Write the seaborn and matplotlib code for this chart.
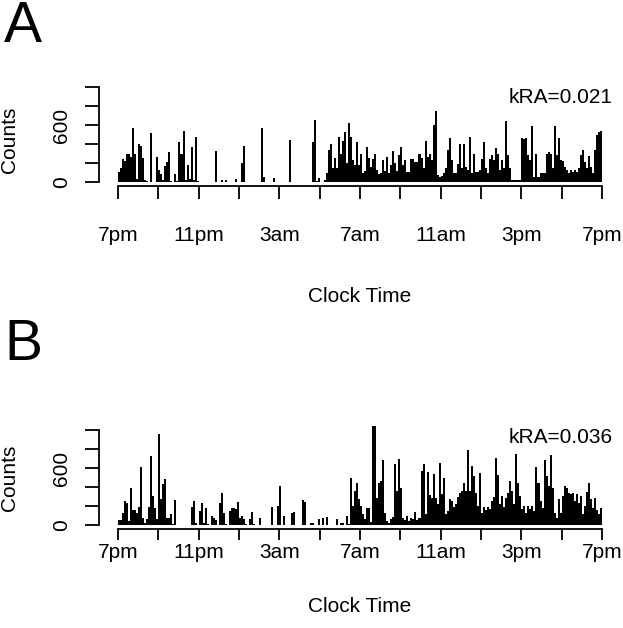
import numpy as np
import pandas as pd
import matplotlib
matplotlib.use("Agg")
import matplotlib.pyplot as plt
import seaborn as sns

# ---- data: activity counts in 6-minute epochs, starting at 7pm ----
counts_a = [
    108, 150, 245, 220, 300, 290, 260, 565, 300, 30,
    395, 380, 250, 20, 15, 0, 520, 0, 5, 260,
    126, 80, 20, 170, 214, 320, 10, 5, 80, 10,
    424, 300, 537, 20, 180, 30, 368, 20, 476, 10,
    5, 0, 0, 0, 0, 0, 0, 0, 330, 0,
    0, 20, 0, 20, 0, 0, 0, 0, 30, 0,
    0, 196, 378, 5, 0, 0, 0, 0, 0, 0,
    0, 570, 56, 0, 0, 0, 0, 45, 0, 0,
    0, 0, 0, 0, 0, 441, 0, 0, 0, 0,
    0, 0, 0, 0, 0, 0, 424, 651, 10, 45,
    0, 0, 20, 90, 336, 395, 150, 250, 143, 476,
    300, 430, 528, 200, 616, 476, 230, 180, 417, 178,
    300, 90, 120, 368, 250, 160, 238, 300, 126, 80,
    100, 230, 120, 266, 90, 178, 325, 200, 120, 283,
    371, 178, 230, 108, 108, 240, 240, 214, 214, 300,
    255, 150, 434, 260, 300, 230, 600, 745, 74, 56,
    60, 90, 143, 336, 458, 230, 100, 90, 185, 395,
    143, 405, 160, 126, 476, 100, 297, 108, 108, 126,
    240, 417, 143, 100, 240, 283, 230, 353, 300, 126,
    230, 150, 640, 283, 143, 20, 20, 20, 20, 20,
    458, 450, 465, 283, 230, 588, 56, 300, 56, 90,
    90, 90, 300, 318, 300, 150, 588, 283, 458, 230,
    220, 160, 126, 90, 126, 108, 126, 108, 143, 283,
    336, 214, 150, 273, 160, 90, 336, 494, 528, 535,
]

counts_b = [
    50, 50, 130, 253, 235, 40, 393, 154, 154, 130,
    190, 611, 77, 20, 60, 190, 730, 305, 175, 60,
    955, 270, 428, 481, 77, 77, 112, 10, 260, 0,
    0, 0, 0, 0, 0, 0, 190, 253, 20, 0,
    147, 235, 20, 175, 10, 0, 95, 70, 50, 0,
    235, 340, 130, 10, 0, 147, 182, 175, 165, 242,
    77, 95, 60, 10, 0, 60, 140, 10, 0, 0,
    77, 0, 0, 0, 0, 0, 190, 0, 0, 200,
    410, 0, 95, 0, 0, 0, 130, 141, 0, 0,
    0, 258, 245, 0, 0, 25, 25, 0, 0, 60,
    0, 70, 0, 88, 0, 0, 0, 0, 67, 0,
    25, 25, 0, 100, 10, 490, 200, 358, 445, 270,
    200, 112, 60, 175, 175, 30, 1040, 1040, 287, 445,
    462, 680, 130, 40, 25, 60, 80, 640, 358, 690,
    392, 77, 50, 100, 40, 70, 60, 140, 50, 77,
    567, 640, 112, 560, 315, 287, 540, 287, 217, 655,
    322, 490, 112, 150, 270, 253, 190, 217, 295, 340,
    358, 445, 358, 785, 358, 620, 515, 340, 200, 550,
    130, 190, 154, 190, 165, 253, 300, 710, 525, 217,
    305, 190, 280, 340, 462, 358, 217, 750, 445, 305,
    165, 200, 130, 200, 165, 200, 150, 610, 445, 253,
    182, 680, 515, 410, 742, 392, 130, 77, 270, 130,
    305, 410, 392, 340, 330, 340, 253, 330, 235, 305,
    112, 200, 350, 445, 270, 175, 287, 154, 112, 182,
]

epoch_hours = 0.1
x_tick_hours = [0, 2, 4, 6, 8, 10, 12, 14, 16, 18, 20, 22, 24]
x_tick_labels = ["7pm", "", "11pm", "", "3am", "", "7am", "", "11am", "", "3pm", "", "7pm"]
y_tick_values = [0, 200, 400, 600, 800, 1000]
y_tick_labels = ["0", "", "", "600", "", ""]
panel_letters = ["A", "B"]
kra_labels = ["kRA=0.021", "kRA=0.036"]
x_title = "Clock Time"
y_title = "Counts"

sns.set_style("white")
plt.rcParams["font.family"] = ["Liberation Sans", "DejaVu Sans"]
plt.rcParams["text.color"] = "black"
plt.rcParams["xtick.color"] = "black"
plt.rcParams["ytick.color"] = "black"
plt.rcParams["xtick.labelcolor"] = "black"
plt.rcParams["ytick.labelcolor"] = "black"

W, H = 623, 628
fig = plt.figure(figsize=(W / 100, H / 100), dpi=100)

def fx(px):
    return px / W

def fy(py):
    return 1 - py / H

xlim = (-0.96, 24.96)
ylim = (-42, 1082)
ax_left = 98.6
ax_width = 522.8
ax_h = 106.8
bottoms = [186.0, 529.0]
kra_y = [832, 863]
letter_top = [0, 318]
xlabel_pad = [20, 2]      # points between tick end and tick label
xtitle_y = [296, 607]     # pixel centre of "Clock Time"
ytitle_y = [140, 478]     # pixel centre of "Counts"
tick_len = [9, 8]

for k, counts in enumerate([counts_a, counts_b]):
    bottom_px = bottoms[k]
    ax = fig.add_axes([fx(ax_left), fy(bottom_px), ax_width / W, ax_h / H])
    df = pd.DataFrame({
        "hour": (np.arange(len(counts)) + 0.5) * epoch_hours,
        "count": counts,
    })
    sns.barplot(data=df, x="hour", y="count", native_scale=True, width=1.0,
                color="black", saturation=1, errorbar=None, ax=ax,
                linewidth=0)
    ax.set_xlim(*xlim)
    ax.set_ylim(*ylim)
    for s in ["top", "right"]:
        ax.spines[s].set_visible(False)
    ax.spines["left"].set_bounds(0, 1000)
    ax.spines["bottom"].set_bounds(0, 24)
    for s in ["left", "bottom"]:
        ax.spines[s].set_linewidth(1.3)
        ax.spines[s].set_color("black")
    ax.set_xticks(x_tick_hours)
    ax.set_xticklabels(x_tick_labels)
    ax.set_yticks(y_tick_values)
    ax.set_yticklabels(y_tick_labels, rotation=90, va="center")
    ax.tick_params(axis="x", length=tick_len[k], width=1.3, pad=xlabel_pad[k],
                   labelsize=15, color="black", labelcolor="black", bottom=True)
    ax.tick_params(axis="y", length=10, width=1.3, pad=10, labelsize=15,
                   color="black", labelcolor="black", left=True)
    ax.set_xlabel("")
    ax.set_ylabel("")
    ax.grid(False)
    ax.text(24.54, kra_y[k], kra_labels[k], ha="right", va="baseline",
            fontsize=15, color="black")
    fig.text(fx(360), fy(xtitle_y[k]), x_title, ha="center", va="center",
             fontsize=15, color="black")
    fig.text(fx(10), fy(ytitle_y[k]), y_title, ha="center", va="center",
             rotation=90, fontsize=15, color="black")
    fig.text(fx(4), fy(letter_top[k]), panel_letters[k], ha="left", va="top",
             fontsize=41, color="black")

fig.savefig("out.png", dpi=100)
